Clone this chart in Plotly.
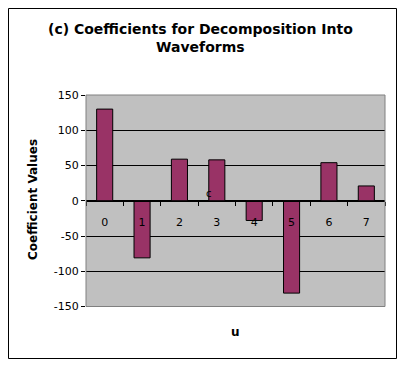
import plotly.graph_objects as go

categories = ["0", "1", "2", "3", "4", "5", "6", "7"]
values = [130, -81, 59, 58, -28, -131, 54, 21]
y_ticks = [-150, -100, -50, 0, 50, 100, 150]

# page body has an 8px margin, so the figure starts at (8, 8) of the window
OFF = 8
W, H = 405 - OFF, 366 - OFF
px = lambda x: (x - OFF) / W
py = lambda y: 1 - (y - OFF) / H

FONT = "DejaVu Sans, Verdana, sans-serif"

fig = go.Figure()
fig.add_trace(go.Bar(
    x=categories, y=values,
    marker=dict(color="#993366", line=dict(color="black", width=1)),
    width=0.43,
))

fig.update_layout(
    width=W, height=H,
    margin=dict(l=0, r=0, t=0, b=0, pad=0),
    paper_bgcolor="white",
    plot_bgcolor="#C0C0C0",
    showlegend=False,
    font=dict(family=FONT, size=11, color="black"),
    xaxis=dict(
        domain=[px(86), px(385)],
        type="category",
        anchor="free",
        position=(py(306.5) + py(95)) / 2,
        automargin=False,
        showline=True, linecolor="black", linewidth=1,
        ticks="outside", tickson="boundaries", ticklen=4, tickcolor="black",
        ticklabelstandoff=11,
        showgrid=False,
        tickfont=dict(family=FONT, size=11),
    ),
    yaxis=dict(
        domain=[py(306.5), py(95)],
        range=[-150, 150],
        automargin=False,
        tickvals=y_ticks,
        ticktext=[str(v) for v in y_ticks],
        ticks="outside", ticklen=4, tickcolor="black",
        showgrid=True, gridcolor="black", gridwidth=1,
        zeroline=True, zerolinecolor="black", zerolinewidth=1,
        showline=False,
        tickfont=dict(family=FONT, size=11),
    ),
    shapes=[
        dict(type="rect", xref="x domain", yref="y domain", x0=0, x1=1, y0=0, y1=1,
             line=dict(color="#808080", width=1), layer="above"),
        dict(type="rect", xref="paper", yref="paper", x0=px(8.5), x1=px(396.5),
             y0=py(358.5), y1=py(8.5), line=dict(color="black", width=1)),
    ],
    annotations=[
        dict(text="<b>(c) Coefficients for Decomposition Into<br>Waveforms</b>",
             xref="paper", yref="paper", x=px(200), y=py(38), showarrow=False,
             font=dict(family=FONT, size=14), xanchor="center", yanchor="middle"),
        dict(text="<b>Coefficient Values</b>", xref="paper", yref="paper",
             x=px(33), y=py(200), textangle=-90, showarrow=False,
             font=dict(family=FONT, size=12), xanchor="center", yanchor="middle"),
        dict(text="<b>u</b>", xref="paper", yref="paper", x=px(235), y=py(332),
             showarrow=False, font=dict(family=FONT, size=12),
             xanchor="center", yanchor="middle"),
        dict(text="c", xref="paper", yref="paper", x=px(209), y=py(193),
             showarrow=False, font=dict(family=FONT, size=10),
             xanchor="center", yanchor="middle"),
    ],
)

fig.write_html("out.html")
